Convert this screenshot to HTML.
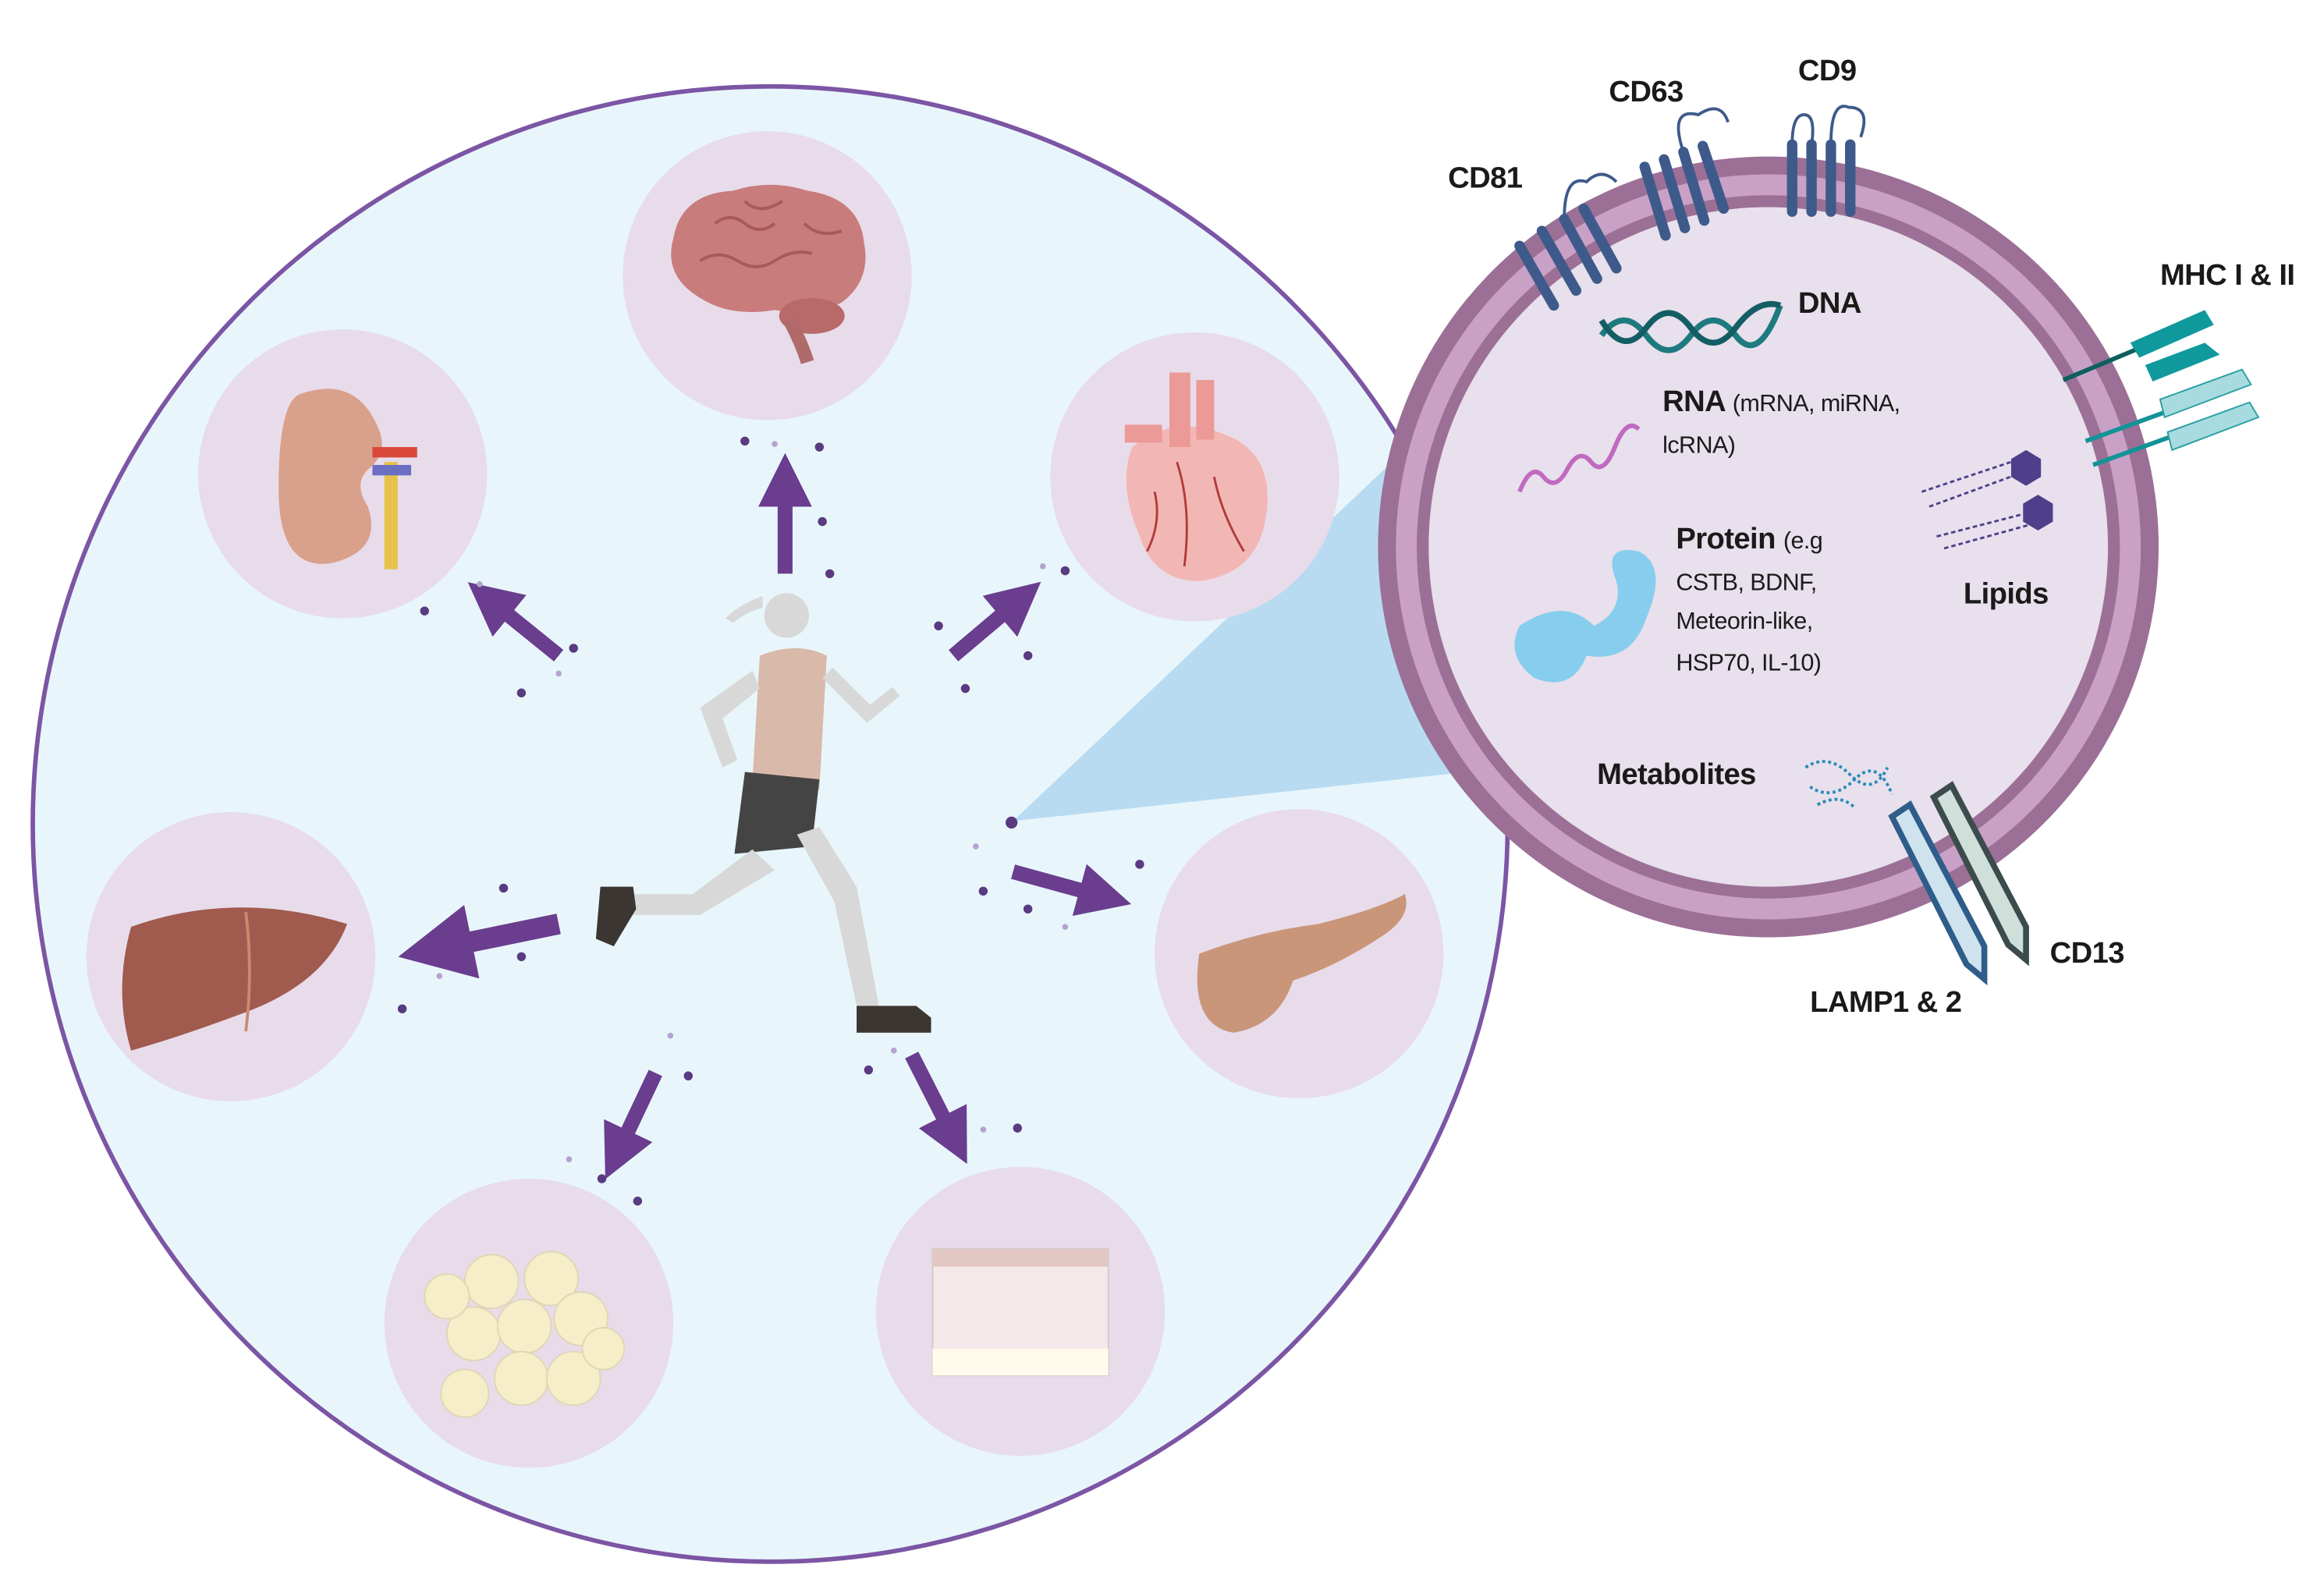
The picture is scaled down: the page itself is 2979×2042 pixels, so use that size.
<!DOCTYPE html>
<html><head><meta charset="utf-8"><style>
html,body{margin:0;padding:0;background:#fff}
svg{display:block}
text{font-family:"Liberation Sans",sans-serif;fill:#1a1a1a;letter-spacing:-0.3px}
</style></head><body>
<svg width="2979" height="2042" viewBox="0 0 1560 1069" preserveAspectRatio="none" xmlns="http://www.w3.org/2000/svg">
<defs>
<marker id="ah" viewBox="0 0 10 10" refX="5" refY="5" markerWidth="3.6" markerHeight="3.6" orient="auto"><path d="M0,0 L10,5 L0,10 z" fill="#6a3d8e"/></marker>
</defs>
<circle cx="517" cy="553" r="495" fill="#e8f6fb" stroke="#7c55a4" stroke-width="3"/>
<polygon points="680,551 945,300 985,518" fill="#b8dbf2"/>
<g fill="#e8dcea">
<circle cx="515" cy="185" r="97"/><circle cx="230" cy="318" r="97"/><circle cx="802" cy="320" r="97"/>
<circle cx="155" cy="642" r="97"/><circle cx="872" cy="640" r="97"/><circle cx="355" cy="888" r="97"/><circle cx="685" cy="880" r="97"/>
</g>
<!-- brain -->
<path d="M452,160 q5,-30 40,-32 q25,-8 50,0 q35,5 38,35 q5,25 -15,40 q-20,10 -45,5 q-30,5 -50,-8 q-25,-15 -18,-40z" fill="#c97c7c"/>
<path d="M480,150 q10,-8 20,0 q10,8 20,0 M470,175 q12,-8 25,0 t25,0 t25,-5 M500,135 q10,10 25,0 M540,150 q10,10 25,5" stroke="#a85a5a" stroke-width="2" fill="none"/>
<ellipse cx="545" cy="212" rx="22" ry="12" fill="#b86a6a"/>
<path d="M530,215 q8,15 12,28" stroke="#b06a6a" stroke-width="9"/>
<!-- kidney -->
<path d="M200,265 q40,-15 55,25 q5,15 -8,25 q-10,10 0,25 q10,30 -25,38 q-35,5 -35,-50 q0,-55 13,-63z" fill="#d9a08c"/>
<rect x="258" y="310" width="9" height="72" fill="#e6c24a"/><rect x="250" y="300" width="30" height="7" fill="#d9483a"/><rect x="250" y="312" width="26" height="7" fill="#6b6fc2"/>
<!-- heart -->
<path d="M760,300 q30,-25 70,-5 q25,15 20,50 q-5,40 -45,45 q-30,0 -40,-30 q-15,-35 -5,-60z" fill="#f2b7b4"/>
<rect x="785" y="250" width="14" height="50" fill="#eb9a98"/><rect x="803" y="255" width="12" height="40" fill="#eb9a98"/><rect x="755" y="285" width="25" height="12" fill="#eb9a98"/>
<path d="M790,310 q10,30 5,70 M815,320 q5,25 20,50 M775,330 q5,20 -5,40" stroke="#b03a3a" stroke-width="1.5" fill="none"/>
<!-- liver -->
<path d="M88,622 q70,-25 145,-2 q-15,40 -70,60 q-40,15 -75,25 q-12,-40 0,-83z" fill="#a15a4e"/>
<path d="M165,612 q5,40 0,80" stroke="#c98a70" stroke-width="2" fill="none"/>
<!-- pancreas -->
<path d="M805,640 q40,-15 80,-20 q40,-10 58,-20 q5,15 -15,28 q-30,20 -60,30 q-10,30 -40,35 q-30,-5 -23,-53z" fill="#c9967a"/>
<g fill="#f6eec9" stroke="#e0d6b5"><circle cx="330" cy="860" r="18"/><circle cx="370" cy="858" r="18"/><circle cx="318" cy="895" r="18"/><circle cx="352" cy="890" r="18"/><circle cx="390" cy="885" r="18"/><circle cx="350" cy="925" r="18"/><circle cx="385" cy="925" r="18"/><circle cx="312" cy="935" r="16"/><circle cx="300" cy="870" r="15"/><circle cx="405" cy="905" r="14"/></g>
<rect x="626" y="838" width="118" height="85" fill="#f5e8ea" stroke="#ccc"/><rect x="626" y="838" width="118" height="12" fill="#e2c7c2"/><rect x="626" y="905" width="118" height="18" fill="#fffaea"/>
<!-- runner -->
<g fill="#d8d8d8">
<circle cx="528" cy="413" r="15"/><path d="M512,400 q-15,5 -25,15 l5,3 q10,-8 20,-10z"/>
<path d="M510,440 q25,-10 45,0 l-5,90 l-45,-5z" fill="#d9b9a9"/>
<path d="M500,518 l50,5 l-5,45 l-52,5z" fill="#444"/>
<path d="M505,570 l-40,30 l-45,0 l0,14 l50,0 l50,-30z"/><path d="M535,560 l25,45 l15,70 l15,0 l-15,-80 l-25,-40z"/>
<path d="M505,450 l-35,25 l15,40 l10,-5 l-10,-28 l25,-20z"/><path d="M552,455 l30,30 l22,-18 l-5,-6 l-15,12 l-25,-25z"/>
</g>
<path d="M403,595 l22,0 l2,15 l-15,25 l-12,-5z" fill="#3b3631"/><path d="M575,675 l40,0 l10,8 l0,10 l-50,0z" fill="#3b3631"/>
<g stroke="#6a3d8e" stroke-width="10" marker-end="url(#ah)" fill="none">
<line x1="527" y1="385" x2="527" y2="322"/>
<line x1="375" y1="440" x2="328" y2="402"/>
<line x1="640" y1="440" x2="685" y2="402"/>
<line x1="375" y1="620" x2="292" y2="637" stroke-width="14"/>
<line x1="680" y1="585" x2="742" y2="602"/>
<line x1="440" y1="720" x2="414" y2="775"/>
<line x1="612" y1="708" x2="641" y2="765"/>
</g>
<g fill="#5a3a80"><circle cx="500" cy="296" r="3"/><circle cx="550" cy="300" r="3"/><circle cx="557" cy="385" r="3"/><circle cx="552" cy="350" r="3"/><circle cx="285" cy="410" r="3"/><circle cx="350" cy="465" r="3"/><circle cx="385" cy="435" r="3"/><circle cx="630" cy="420" r="3"/><circle cx="648" cy="462" r="3"/><circle cx="690" cy="440" r="3"/><circle cx="715" cy="383" r="3"/><circle cx="679" cy="552" r="4"/><circle cx="660" cy="598" r="3"/><circle cx="765" cy="580" r="3"/><circle cx="690" cy="610" r="3"/><circle cx="270" cy="677" r="3"/><circle cx="350" cy="642" r="3"/><circle cx="338" cy="596" r="3"/><circle cx="404" cy="791" r="3"/><circle cx="428" cy="806" r="3"/><circle cx="462" cy="722" r="3"/><circle cx="583" cy="718" r="3"/><circle cx="683" cy="757" r="3"/></g>
<g fill="#b5a3cf"><circle cx="520" cy="298" r="2"/><circle cx="322" cy="392" r="2"/><circle cx="375" cy="452" r="2"/><circle cx="700" cy="380" r="2"/><circle cx="655" cy="568" r="2"/><circle cx="715" cy="622" r="2"/><circle cx="295" cy="655" r="2"/><circle cx="450" cy="695" r="2"/><circle cx="382" cy="778" r="2"/><circle cx="600" cy="705" r="2"/><circle cx="660" cy="758" r="2"/></g>
<!-- vesicle -->
<circle cx="1187" cy="367" r="262" fill="#9c7096"/>
<circle cx="1187" cy="367" r="250" fill="#c9a1c6"/>
<circle cx="1187" cy="367" r="236" fill="#9c7096"/>
<circle cx="1187" cy="367" r="228" fill="#e8e0ec"/>
<g stroke="#3e5a8a" stroke-width="7" stroke-linecap="round">
<line x1="1020" y1="165" x2="1043" y2="205"/><line x1="1035" y1="155" x2="1058" y2="195"/><line x1="1050" y1="147" x2="1072" y2="187"/><line x1="1063" y1="140" x2="1085" y2="180"/>
<line x1="1104" y1="112" x2="1118" y2="158"/><line x1="1117" y1="107" x2="1131" y2="153"/><line x1="1130" y1="102" x2="1144" y2="148"/><line x1="1143" y1="98" x2="1157" y2="140"/>
<line x1="1203" y1="97" x2="1203" y2="142"/><line x1="1216" y1="97" x2="1216" y2="142"/><line x1="1229" y1="97" x2="1229" y2="142"/><line x1="1242" y1="97" x2="1242" y2="142"/>
</g>
<g stroke="#3e5a8a" stroke-width="2" fill="none"><path d="M1050,147 q0,-30 15,-25 q10,-10 20,0"/><path d="M1130,102 q-10,-30 10,-25 q15,-10 20,5"/><path d="M1229,97 q0,-30 12,-25 q15,0 8,20"/><path d="M1203,97 q0,-20 8,-20 q8,0 5,20"/></g>
<path d="M1075,225 q15,-20 30,0 t30,0 t30,0 t30,-20" stroke="#1f7a80" stroke-width="4" fill="none"/>
<path d="M1075,215 q15,25 30,5 t30,0 t30,0 t30,-15" stroke="#135e64" stroke-width="4" fill="none"/>
<path d="M1020,330 q8,-20 16,-10 t16,-5 t16,-5 t16,-10 t16,-12" stroke="#c06ac0" stroke-width="3" fill="none"/>
<path d="M1020,420 q30,-20 50,0 q20,-10 15,-30 q-10,-25 15,-20 q20,10 5,45 q-10,30 -40,25 q-10,25 -35,15 q-20,-15 -10,-35z" fill="#86cdee"/>
<polygon points="1360,302 1370,308 1370,320 1360,326 1350,320 1350,308" fill="#4e3f8a"/>
<polygon points="1368,332 1378,338 1378,350 1368,356 1358,350 1358,338" fill="#4e3f8a"/>
<path d="M1290,330 l60,-20 M1295,340 l60,-22 M1300,360 l58,-15 M1305,368 l58,-16" stroke="#4e3f8a" stroke-width="1.5" stroke-dasharray="3,2"/>
<path d="M1212,515 q15,-10 30,5 t25,-5 M1215,528 q15,10 30,-5 t25,10 M1220,540 q15,-8 25,2" stroke="#2a8bb8" stroke-width="2" stroke-dasharray="2,2" fill="none"/>
<line x1="1385" y1="255" x2="1440" y2="232" stroke="#0d5e5e" stroke-width="3"/>
<path d="M1430,230 l50,-22 l6,10 l-50,22z" fill="#10999c"/><path d="M1440,245 l40,-15 l10,8 l-45,18z" fill="#10999c"/>
<line x1="1400" y1="296" x2="1455" y2="276" stroke="#139396" stroke-width="3"/><line x1="1405" y1="312" x2="1460" y2="292" stroke="#139396" stroke-width="3"/>
<path d="M1450,268 l55,-20 l6,10 l-58,22z" fill="#a8dbe0" stroke="#2a9ea3"/><path d="M1455,290 l55,-20 l6,10 l-58,22z" fill="#a8dbe0" stroke="#2a9ea3"/>
<path d="M1270,548 l12,-8 l50,95 l0,22 l-12,-10z" fill="#cfe3ee" stroke="#2f5d8a" stroke-width="4"/>
<path d="M1298,535 l12,-8 l50,95 l0,22 l-12,-10z" fill="#cfe0da" stroke="#3c4c4c" stroke-width="4"/>
<g font-weight="bold" font-size="20">
<text x="972" y="126">CD81</text><text x="1080" y="68">CD63</text><text x="1207" y="54">CD9</text>
<text x="1207" y="210">DNA</text><text x="1450" y="191">MHC I &amp; II</text>
<text x="1318" y="405">Lipids</text><text x="1072" y="526">Metabolites</text>
<text x="1376" y="646">CD13</text><text x="1215" y="679">LAMP1 &amp; 2</text>
<text x="1116" y="276">RNA <tspan font-weight="normal" font-size="16">(mRNA, miRNA,</tspan></text>
<text x="1125" y="368">Protein <tspan font-weight="normal" font-size="16">(e.g</tspan></text>
</g>
<g font-size="16">
<text x="1116" y="304">lcRNA)</text>
<text x="1125" y="396">CSTB, BDNF,</text><text x="1125" y="422">Meteorin-like,</text><text x="1125" y="450">HSP70, IL-10)</text>
</g>
</svg>
</body></html>
